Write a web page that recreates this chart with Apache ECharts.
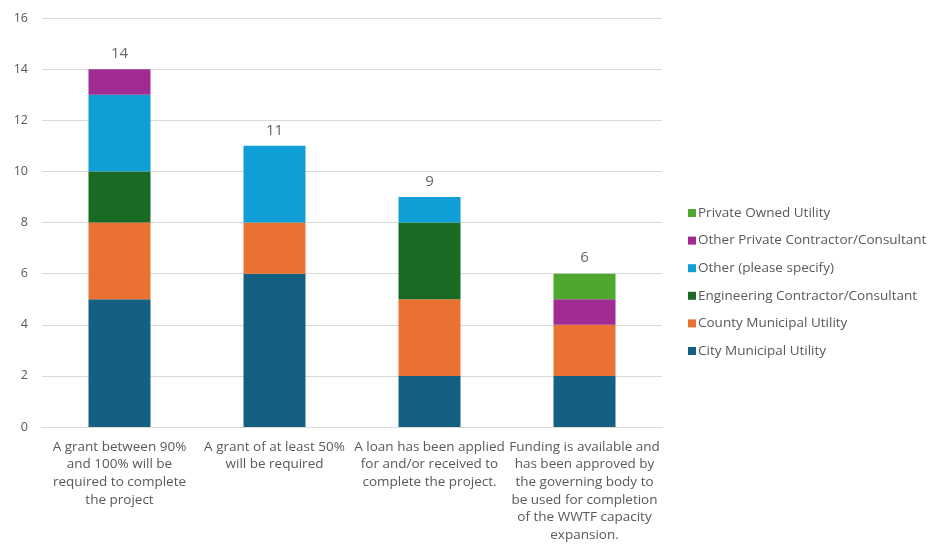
<!DOCTYPE html>
<html>
<head>
<meta charset="utf-8">
<script src="https://cdn.jsdelivr.net/npm/echarts@6/dist/echarts.min.js"></script>
<style>
  html, body { margin: 0; padding: 0; background: #ffffff; }
  #chart { width: 936px; height: 548px; }
</style>
</head>
<body>
<div id="chart"></div>
<script>
// Funding categories (x axis)
const categories = [
  'A grant between 90%\nand 100% will be\nrequired to complete\nthe project',
  'A grant of at least 50%\nwill be required',
  'A loan has been applied\nfor and/or received to\ncomplete the project.',
  'Funding is available and\nhas been approved by\nthe governing body to\nbe used for completion\nof the WWTF capacity\nexpansion.'
];

// Respondent counts per organisation type (stack order bottom to top)
const cityMunicipal      = [5, 6, 2, 2];
const countyMunicipal    = [3, 2, 3, 2];
const engineering        = [2, 0, 3, 0];
const otherSpecify       = [3, 3, 1, 0];
const otherPrivate       = [1, 0, 0, 1];
const privateOwned       = [0, 0, 0, 1];

const seriesNames = [
  'City Municipal Utility',
  'County Municipal Utility',
  'Engineering Contractor/Consultant',
  'Other (please specify)',
  'Other Private Contractor/Consultant',
  'Private Owned Utility'
];
const seriesValues = [cityMunicipal, countyMunicipal, engineering, otherSpecify, otherPrivate, privateOwned];
const seriesColors = ['#156082', '#e97132', '#196b24', '#0f9ed5', '#a02b93', '#4ea72e'];

// y axis ticks
const yMin = 0, yMax = 16, yStep = 2;

const totals = categories.map((_, i) => seriesValues.reduce((s, arr) => s + arr[i], 0));

const chart = echarts.init(document.getElementById('chart'), null, { renderer: 'canvas' });

const barSeries = seriesNames.map((name, k) => ({
  name: name,
  type: 'bar',
  stack: 'total',
  barWidth: 62,
  itemStyle: { color: seriesColors[k] },
  data: seriesValues[k].map(v => (v === 0 ? null : v))
}));

// Totals drawn as labels above each stack
barSeries.push({
  name: 'Total',
  type: 'scatter',
  symbolSize: 0,
  silent: true,
  data: totals,
  label: {
    show: true,
    position: 'top',
    distance: 8,
    color: '#404040',
    fontSize: 15,
    fontFamily: 'Open Sans'
  },
  tooltip: { show: false }
});

chart.setOption({
  animation: false,
  textStyle: { fontFamily: 'Open Sans' },
  grid: { left: 42, right: 274, top: 18, bottom: 121, containLabel: false },
  legend: {
    orient: 'vertical',
    left: 683,
    top: 201,
    itemWidth: 8,
    itemHeight: 8,
    itemGap: 13.6,
    icon: 'rect',
    data: seriesNames.slice().reverse(),
    textStyle: { color: '#595959', fontSize: 13.5, fontFamily: 'Open Sans', padding: [0, 0, 0, -3] }
  },
  xAxis: {
    type: 'category',
    data: categories,
    axisLine: { show: true, lineStyle: { color: '#d9d9d9', width: 1 } },
    axisTick: { show: false },
    axisLabel: {
      interval: 0,
      color: '#595959',
      fontSize: 13.5,
      lineHeight: 17.7,
      margin: 11,
      fontFamily: 'Open Sans'
    }
  },
  yAxis: {
    type: 'value',
    min: yMin,
    max: yMax,
    interval: yStep,
    axisLine: { show: false },
    axisTick: { show: false },
    splitLine: { lineStyle: { color: '#d9d9d9', width: 1 } },
    axisLabel: { color: '#595959', fontSize: 12.5, margin: 14, fontFamily: 'Open Sans' }
  },
  series: barSeries
});
</script>
</body>
</html>
